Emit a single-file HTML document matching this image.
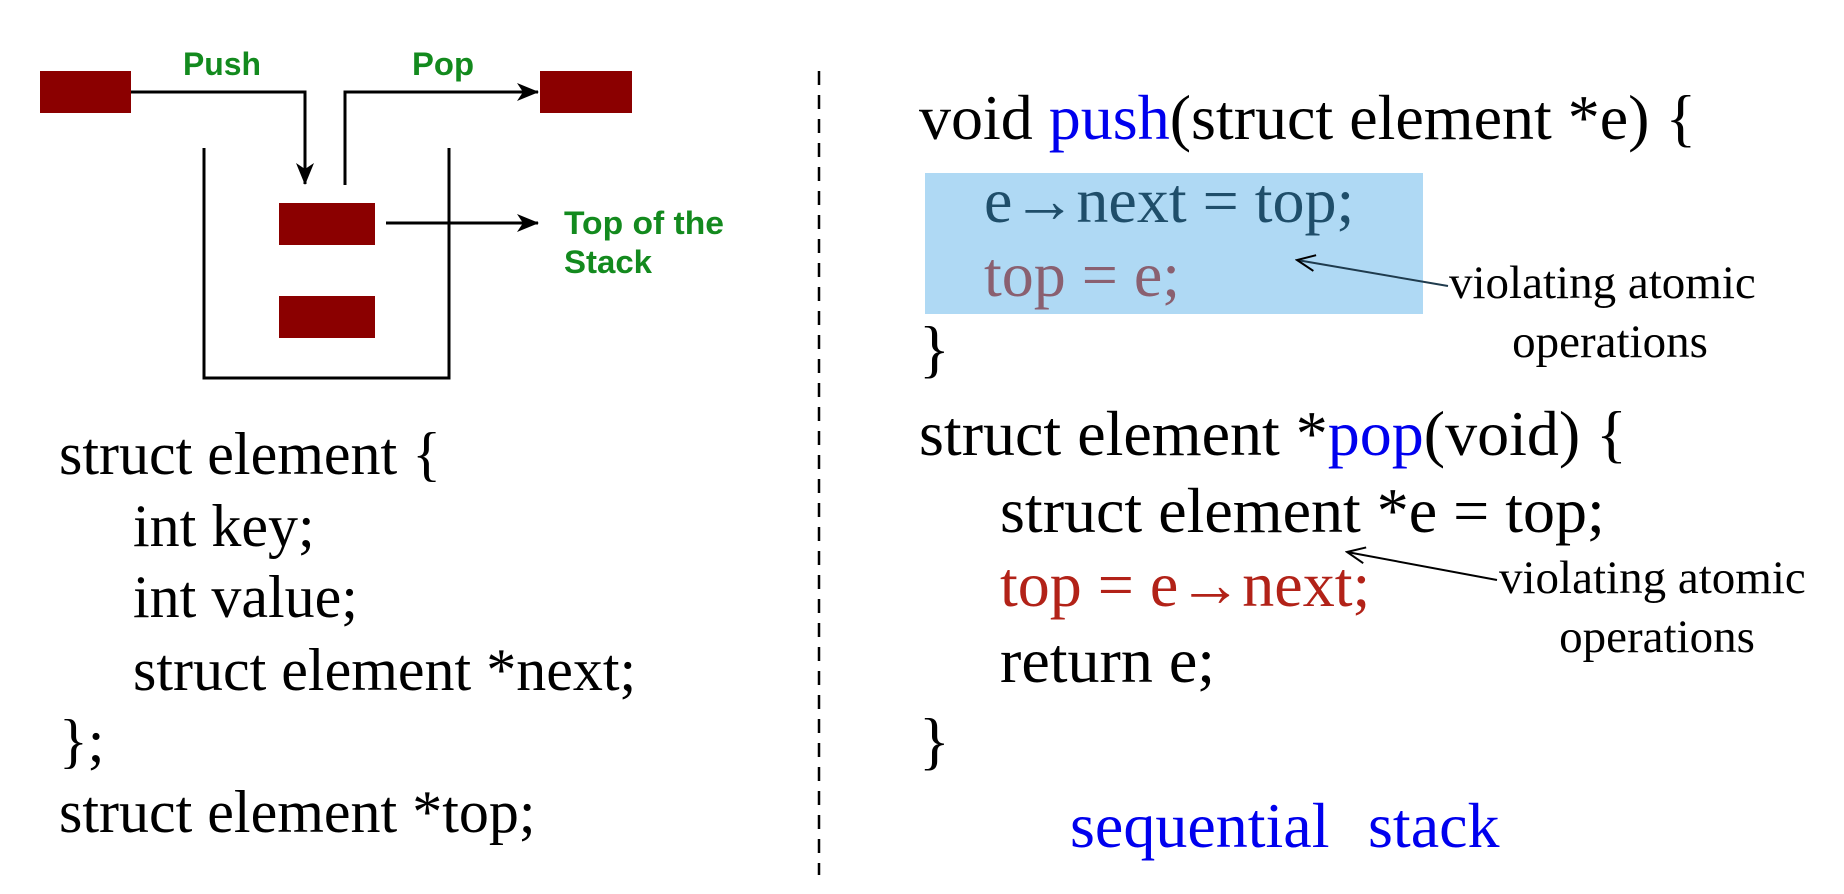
<!DOCTYPE html>
<html><head><meta charset="utf-8"><style>
html,body{margin:0;padding:0;background:#fff;}
svg{display:block;}
</style></head><body>
<svg width="1844" height="894" viewBox="0 0 1844 894" xmlns="http://www.w3.org/2000/svg">
<defs>
<marker id="ah" markerWidth="22" markerHeight="22" refX="21" refY="11" orient="auto" markerUnits="userSpaceOnUse" viewBox="0 0 22 22">
<path d="M0,2 L22,11 L0,20 L6,11 Z" fill="#000"/>
</marker>
<marker id="oa" markerWidth="22" markerHeight="22" refX="20" refY="11" orient="auto" markerUnits="userSpaceOnUse" viewBox="0 0 22 22">
<path d="M2,3 L20,11 L2,19" fill="none" stroke="#000" stroke-width="2"/>
</marker>
</defs>
<!-- left diagram -->
<rect x="40" y="71" width="91" height="42" fill="#8b0000"/>
<rect x="540" y="71" width="92" height="42" fill="#8b0000"/>
<rect x="279" y="203" width="96" height="42" fill="#8b0000"/>
<rect x="279" y="296" width="96" height="42" fill="#8b0000"/>
<polyline points="131,92 305,92 305,184" fill="none" stroke="#000" stroke-width="3" marker-end="url(#ah)"/>
<polyline points="345,185 345,92 538,92" fill="none" stroke="#000" stroke-width="3" marker-end="url(#ah)"/>
<polyline points="204,148 204,378 449,378 449,148" fill="none" stroke="#000" stroke-width="3"/>
<line x1="386" y1="223" x2="538" y2="223" stroke="#000" stroke-width="3" marker-end="url(#ah)"/>
<g font-family="Liberation Sans, Arial, sans-serif" font-weight="bold" font-size="32" fill="#138a1e">
<text x="222" y="75" text-anchor="middle" textLength="78" lengthAdjust="spacingAndGlyphs">Push</text>
<text x="443" y="75" text-anchor="middle" textLength="62" lengthAdjust="spacingAndGlyphs">Pop</text>
<text x="564" y="234" textLength="160" lengthAdjust="spacingAndGlyphs">Top of the</text>
<text x="564" y="273" textLength="88" lengthAdjust="spacingAndGlyphs">Stack</text>
</g>
<line x1="819" y1="71" x2="819" y2="875" stroke="#000" stroke-width="2.5" stroke-dasharray="14,10"/>
<!-- left code -->
<g font-family="Liberation Serif, Times New Roman, serif" font-size="60" fill="#000">
<text x="59" y="474">struct element {</text>
<text x="133" y="546">int key;</text>
<text x="133" y="617">int value;</text>
<text x="133" y="690">struct element *next;</text>
<text x="59" y="761">};</text>
<text x="59" y="832">struct element *top;</text>
</g>
<!-- right code -->
<rect x="925" y="173" width="498" height="141" fill="#afd9f4"/>
<g font-family="Liberation Serif, Times New Roman, serif" font-size="64" fill="#000">
<text x="919" y="139">void <tspan fill="#0000ee">push</tspan>(struct element *e) {</text>
<text x="984" y="222" fill="#1f4e6a">e→next = top;</text>
<text x="984" y="296" fill="#8a6070">top = e;</text>
<text x="919" y="370">}</text>
<text x="919" y="455">struct element *<tspan fill="#0000ee">pop</tspan>(void) {</text>
<text x="1000" y="532">struct element *e = top;</text>
<text x="1000" y="606" fill="#b22218">top = e→next;</text>
<text x="1000" y="682">return e;</text>
<text x="919" y="762">}</text>
<text x="1070" y="847" fill="#0000ee">sequential</text>
<text x="1368" y="847" fill="#0000ee">stack</text>
</g>
<g font-family="Liberation Serif, Times New Roman, serif" font-size="47" fill="#000">
<text x="1449" y="298">violating atomic</text>
<text x="1610" y="357" text-anchor="middle">operations</text>
<text x="1499" y="593">violating atomic</text>
<text x="1657" y="652" text-anchor="middle">operations</text>
</g>
<line x1="1448" y1="286" x2="1297" y2="260" stroke="#1f3b4d" stroke-width="2" marker-end="url(#oa)"/>
<line x1="1497" y1="580" x2="1347" y2="552" stroke="#000" stroke-width="2" marker-end="url(#oa)"/>
</svg>
</body></html>
